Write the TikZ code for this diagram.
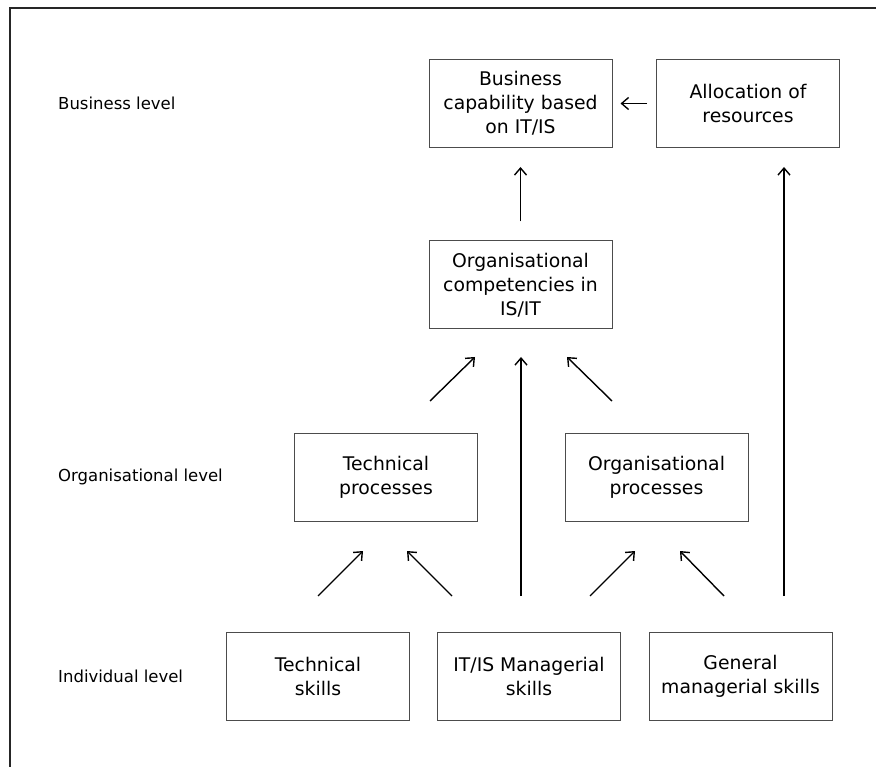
\documentclass[tikz,border=0pt]{standalone}
\usepackage{fontspec}
\setmainfont{DejaVu Sans}
\usetikzlibrary{arrows.meta}

\tikzset{
  box/.style={draw=black!70, line width=1pt, minimum width=183pt, minimum height=88pt,
    inner sep=0pt, align=center, font=\fontsize{18.8}{24}\selectfont},
  level/.style={anchor=west, inner sep=0pt, font=\fontsize{16.5}{20}\selectfont},
  link/.style={-{Straight Barb[length=7pt,width=12pt]}, line width=1.4pt}
}

\begin{document}
\begin{tikzpicture}[x=1pt, y=-1pt]
    % Cadre
    \useasboundingbox (0,0) rectangle (876,767);
    \draw[line width=1.2pt, black!85] (10,767) -- (10,8) -- (876,8);

    % Niveaux
    \node[level] (lbus) at (58,103) {Business level};
    \node[level] (lorg) at (58,477) {Organisational level};
    \node[level] (lind) at (58,676) {Individual level};

    % Boîtes
    \node[box] (buscap) at (520.5,103.5) {Business\\capability based\\on IT/IS};
    \node[box] (alloc) at (748,103.5) {Allocation of\\resources};
    \node[box] (orgcomp) at (520.5,285) {Organisational\\competencies in\\IS/IT};
    \node[box] (techproc) at (386,477) {Technical\\processes};
    \node[box] (orgproc) at (656.5,477) {Organisational\\processes};
    \node[box] (techskill) at (318,676) {Technical\\skills};
    \node[box] (itskill) at (529,676) {IT/IS Managerial\\skills};
    \node[box] (genskill) at (740.5,676) {General\\managerial skills};

    % Extrémités des flèches libres
    \coordinate (a1) at (318,596); \coordinate (b1) at (363,551);
    \coordinate (a2) at (452,596); \coordinate (b2) at (407,551);
    \coordinate (a3) at (590,596); \coordinate (b3) at (635,551);
    \coordinate (a4) at (724,596); \coordinate (b4) at (680,551);
    \coordinate (a5) at (430,401); \coordinate (b5) at (475,357);
    \coordinate (a6) at (612,401); \coordinate (b6) at (567,357);
    \coordinate (a7) at (521,596); \coordinate (b7) at (521,357);
    \coordinate (a8) at (784,596); \coordinate (b8) at (784,167);

    % Flèches
    \draw[link, shorten <=9pt, shorten >=8pt] (alloc.west) -- (buscap.east);
    \draw[link, shorten <=19pt, shorten >=19pt] (orgcomp.north) -- (buscap.south);
    \draw[link] (a1) -- (b1);
    \draw[link] (a2) -- (b2);
    \draw[link] (a3) -- (b3);
    \draw[link] (a4) -- (b4);
    \draw[link] (a5) -- (b5);
    \draw[link] (a6) -- (b6);
    \draw[link] (a7) -- (b7);
    \draw[link] (a8) -- (b8);
\end{tikzpicture}
\end{document}
